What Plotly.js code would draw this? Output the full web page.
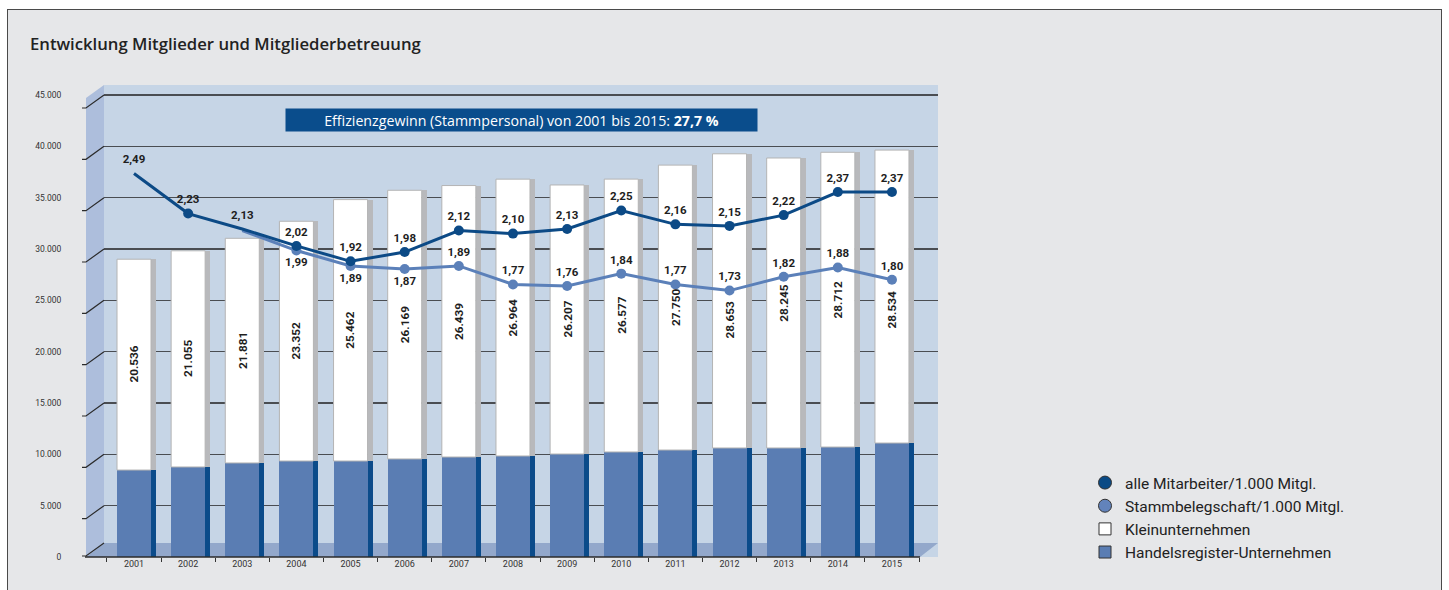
<!DOCTYPE html>
<html><head><meta charset="utf-8">
<script src="https://cdn.plot.ly/plotly-3.0.1.min.js"></script>
<style>
html,body{margin:0;padding:0;background:#fff;overflow:hidden;width:1449px;height:590px;}
#frame{position:absolute;left:7px;top:9px;width:1433px;height:600px;border:1.5px solid #4a4a4a;background:#e6e7e9;}
#chart{position:absolute;left:0;top:0;width:1449px;height:590px;}
</style></head>
<body>
<div id="frame"></div>
<div id="chart"></div>
<script>
// ---- data ----
const years = ['2001','2002','2003','2004','2005','2006','2007','2008','2009','2010','2011','2012','2013','2014','2015'];
const handelsregister = [8470, 8770, 9160, 9350, 9350, 9550, 9740, 9840, 10030, 10230, 10420, 10620, 10620, 10710, 11100];
const kleinunternehmen = [20536, 21055, 21881, 23352, 25462, 26169, 26439, 26964, 26207, 26577, 27750, 28653, 28245, 28712, 28534];
const alleMitarbeiter = [2.49, 2.23, 2.13, 2.02, 1.92, 1.98, 2.12, 2.10, 2.13, 2.25, 2.16, 2.15, 2.22, 2.37, 2.37];
const stammbelegschaft = [null, null, 2.12, 1.99, 1.89, 1.87, 1.89, 1.77, 1.76, 1.84, 1.77, 1.73, 1.82, 1.88, 1.80];
const seriesNames = ['alle Mitarbeiter/1.000 Mitgl.', 'Stammbelegschaft/1.000 Mitgl.', 'Kleinunternehmen', 'Handelsregister-Unternehmen'];
const titleText = 'Entwicklung Mitglieder und Mitgliederbetreuung';
const bannerText = 'Effizienzgewinn (Stammpersonal) von 2001 bis 2015: <b>27,7 %</b>';

// ---- styles ----
const alleMarkerOpacity = [0, 1, 0, 1, 1, 1, 1, 1, 1, 1, 1, 1, 1, 1, 1];
const stammMarkerOpacity = [0, 0, 0, 1, 1, 1, 1, 1, 1, 1, 1, 1, 1, 1, 1];
const stammTextPos = ['top center','top center','top center','bottom center','bottom center','bottom center','top center','top center','top center','top center','top center','top center','top center','top center','top center'];
const stammShowText = [false, false, false, true, true, true, true, true, true, true, true, true, true, true, true];
const barLabelShiftPx = [0, 0, 0, 0, 0, 0, 0, 0, 0, 0, 0, -19, 0, 0, -13];

const W = 1449, H = 590, L = 104, R = 938, T = 85, B = 557, Y45 = 95;
const fx = p => (p - L) / (R - L);
const fy = p => (B - p) / (B - T);
const yTop = 45000 * (B - T) / (B - Y45);
const y2Top = 3 * (B - T) / (B - Y45);
const catW = 54.14;
const xr0 = -(134 - L) / catW;
const xr1 = xr0 + (R - L) / catW;
const faceW = 34 / catW, sideW = 5 / catW;

const fmt2 = v => v.toFixed(2).replace('.', ',');
const fmtK = v => String(Math.round(v)).replace(/\B(?=(\d{3})+(?!\d))/g, '.');
const FONT = 'Roboto, Arial, sans-serif';
const labelFont = {family: FONT, size: 11.5, color: '#1e1e1e', weight: 700};

const traces = [
  // side faces (3D look)
  {type:'bar', x: years, y: handelsregister, width: sideW, offset: faceW/2, marker:{color:'#0b4b8a'}, showlegend:false, hoverinfo:'skip'},
  {type:'bar', x: years, y: kleinunternehmen, base: handelsregister, width: sideW, offset: faceW/2, marker:{color:'#b8b9bc'}, showlegend:false, hoverinfo:'skip'},
  // front faces
  {type:'bar', name: seriesNames[3], x: years, y: handelsregister, width: faceW, offset: -faceW/2,
   marker:{color:'#5a7db3'}, showlegend:false},
  {type:'bar', name: seriesNames[2], x: years, y: kleinunternehmen, base: handelsregister, width: faceW, offset: -faceW/2,
   marker:{color:'#ffffff', line:{color:'#b4b4b4', width:1}}, showlegend:false},
  // lines
  {type:'scatter', mode:'lines+markers+text', name: seriesNames[1], x: years, y: stammbelegschaft, yaxis:'y2',
   line:{color:'#5b80b9', width:3}, marker:{color:'#5b80b9', size:10, opacity: stammMarkerOpacity, line:{width:0}},
   text: stammbelegschaft.map((v,i) => (v !== null && stammShowText[i]) ? fmt2(v) : ''),
   textposition: stammTextPos, textfont: labelFont, cliponaxis:false, showlegend:false},
  {type:'scatter', mode:'lines+markers+text', name: seriesNames[0], x: years, y: alleMitarbeiter, yaxis:'y2',
   line:{color:'#0c4a86', width:3}, marker:{color:'#0c4a86', size:10, opacity: alleMarkerOpacity, line:{width:0}},
   text: alleMitarbeiter.map(fmt2), textposition:'top center', textfont: labelFont, cliponaxis:false, showlegend:false},
  // legend entries
  {type:'scatter', mode:'markers', name: seriesNames[0], x:[null], y:[null], marker:{symbol:'circle', size:13, color:'#0a4a85', line:{color:'#333', width:1}}},
  {type:'scatter', mode:'markers', name: seriesNames[1], x:[null], y:[null], marker:{symbol:'circle', size:13, color:'#6283bb', line:{color:'#333', width:1}}},
  {type:'scatter', mode:'markers', name: seriesNames[2], x:[null], y:[null], marker:{symbol:'square', size:12, color:'#ffffff', line:{color:'#333', width:1}}},
  {type:'scatter', mode:'markers', name: seriesNames[3], x:[null], y:[null], marker:{symbol:'square', size:12, color:'#5a7db3', line:{color:'#333', width:1}}}
];

const shapes = [];
const P = (x, y) => fx(x).toFixed(5) + ',' + fy(y).toFixed(5);
// left wall
shapes.push({type:'path', xref:'paper', yref:'paper', layer:'below', line:{width:0}, fillcolor:'#adbedc',
  path: 'M' + P(86,98) + ' L' + P(104,85) + ' L' + P(104,543) + ' L' + P(86,557) + ' Z'});
// floor
shapes.push({type:'path', xref:'paper', yref:'paper', layer:'below', line:{width:0}, fillcolor:'#93a8cb',
  path: 'M' + P(86,557) + ' L' + P(104,543) + ' L' + P(938,543) + ' L' + P(920,557) + ' Z'});
// slanted ticks on left wall
for (let v = 0; v <= 45000; v += 5000) {
  const yb = B - v * (B - Y45) / 45000;
  const ybk = v === 0 ? 543 : yb;
  shapes.push({type:'path', xref:'paper', yref:'paper', layer:'above', line:{color:'#2b2b2b', width:1.2},
    path: 'M' + P(82, ybk + 13) + ' L' + P(86, ybk + 13) + ' L' + P(104, ybk)});
}
// front axis line
shapes.push({type:'line', xref:'paper', yref:'paper', layer:'above', x0: fx(85), x1: fx(920), y0: fy(557), y1: fy(557), line:{color:'#2b2b2b', width:1.5}});

// bar value labels (rotated, in the white segment); x given as category index
const barLabels = years.map((yr, i) => ({
  xref:'x', yref:'y', x: i, y: handelsregister[i] + kleinunternehmen[i] / 2, yshift: barLabelShiftPx[i],
  text: fmtK(kleinunternehmen[i]), textangle: -90, showarrow:false, xanchor:'center', yanchor:'middle',
  font:{family: FONT, size: 11.8, color:'#1e1e1e', weight: 700}
}));

const layout = {
  width: W, height: H,
  margin: {l: L, r: W - R, t: T, b: H - B, pad: 0},
  paper_bgcolor: 'rgba(0,0,0,0)', plot_bgcolor: '#c6d5e6',
  separators: ',.',
  barmode: 'overlay', bargap: 0,
  font: {family: FONT, color: '#222'},
  xaxis: {type:'category', range:[xr0, xr1], showgrid:false, zeroline:false, showline:false,
    ticks:'outside', tickson:'boundaries', ticklen:4, tickcolor:'#333', tickwidth:1,
    tickfont:{size:9, color:'#333'}, fixedrange:true},
  yaxis: {range:[0, yTop], tickvals:[0,5000,10000,15000,20000,25000,30000,35000,40000,45000], tickformat:',d',
    showgrid:true, gridcolor:'#4a4d52', gridwidth:1.2, zeroline:false, showline:false,
    ticks:'outside', ticklen:40, tickcolor:'rgba(0,0,0,0)', tickfont:{size:8.5, color:'#333'}},
  yaxis2: {range:[0, y2Top], overlaying:'y', side:'right', visible:false},
  showlegend: true,
  legend: {x: fx(1085), xanchor:'left', y: fy(466), yanchor:'top', bgcolor:'rgba(0,0,0,0)',
    font:{size:15.5, color:'#222', family: FONT}, tracegroupgap:0, itemclick:false},
  shapes: shapes,
  annotations: barLabels.concat([
    {xref:'paper', yref:'paper', x: fx(28), y: fy(43), xanchor:'left', yanchor:'middle', showarrow:false,
     text: titleText, font:{size:16.7, color:'#222', family:'"Open Sans", Roboto, sans-serif', weight:600}},
    {xref:'paper', yref:'paper', x: fx(521), y: fy(120), xanchor:'center', yanchor:'middle', showarrow:false,
     text: bannerText, width: 471, height: 22, bgcolor:'#0a4d8c', borderpad:0,
     font:{size:14.2, color:'#ffffff', family:'"Open Sans", Roboto, sans-serif'}}
  ])
};
Plotly.newPlot('chart', traces, layout, {staticPlot:true, displayModeBar:false});
</script>
</body></html>
